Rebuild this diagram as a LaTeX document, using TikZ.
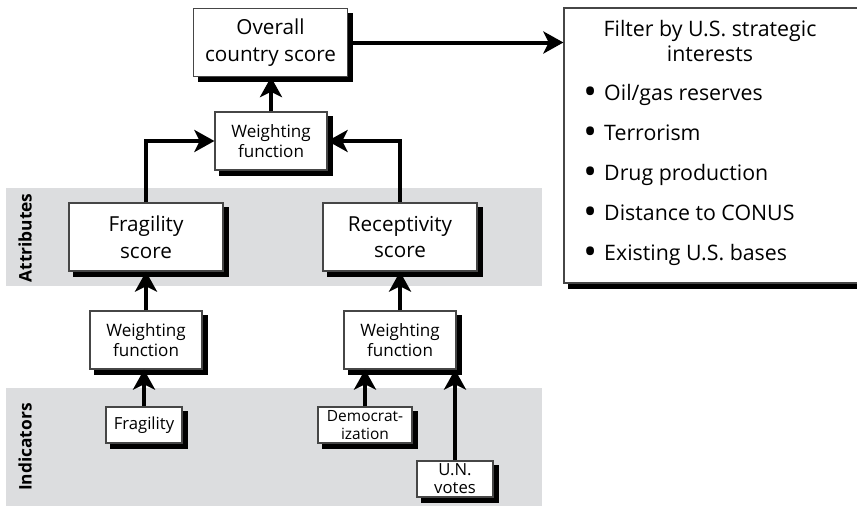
\documentclass[tikz,border=0pt]{standalone}
\usepackage{fontspec}
\usepackage{graphicx}
\setmainfont{Open Sans}
\usetikzlibrary{arrows.meta}
\definecolor{band}{RGB}{220,221,223}
\definecolor{edge}{RGB}{70,70,70}
\pgfdeclarelayer{back}
\pgfdeclarelayer{boxshadow}
\pgfsetlayers{back,boxshadow,main}
\newcommand{\bigdot}{\raisebox{-0.35ex}{\scalebox{1.7}{\textbullet}}}
\begin{document}
\begin{tikzpicture}[x=0.75pt,y=-0.75pt,
 box/.style={draw=edge, line width=0.9pt, fill=white, align=center, inner sep=0pt},
 big/.style={box, font=\fontsize{15.5}{20}\selectfont, minimum width=115.5pt, minimum height=51pt},
 wf/.style={box, font=\fontsize{12.8}{14.5}\selectfont, minimum width=84pt, minimum height=43.5pt},
 ind/.style={box, font=\fontsize{12.5}{13.5}\selectfont, minimum height=27pt},
 arr/.style={line width=3pt, -{Stealth[length=15pt,width=16.5pt,inset=4pt]}},
 lbl/.style={rotate=90, font=\bfseries\fontsize{13}{15}\selectfont},
 filt/.style={font=\fontsize{16}{18.75}\selectfont},
 bul/.style={filt, anchor=west, inner sep=0pt},
 shadowfill/.style={fill=black}
]
\clip (0,0) rectangle (857,507);
\begin{pgfonlayer}{back}
\fill[band] (6,188) rectangle (542,286);
\fill[band] (6,388) rectangle (542,506);
\end{pgfonlayer}
\node[lbl] (attr) at (25,238) {Attributes};
\node[lbl] (indi) at (25,447) {Indicators};

\node[big] (ov) at (270.5,42.5) {Overall\\country score};
\node[wf] (twf) at (271,141) {Weighting\\function};
\node[big] (fs) at (146,237) {Fragility\\score};
\node[big] (rs) at (400,237) {Receptivity\\score};
\node[wf] (wfl) at (146,340) {Weighting\\function};
\node[wf] (wfr) at (400,340) {Weighting\\function};
\node[ind, minimum width=57pt] (fi) at (144,425) {Fragility};
\node[ind, minimum width=70.5pt, font=\fontsize{11.6}{13.5}\selectfont] (dem) at (365,425) {Democrat-\\ization};
\node[ind, minimum width=57pt] (un) at (455,479) {U.N.\\votes};

\node[box, minimum width=229.5pt, minimum height=206.25pt] (filt) at (717,145.5) {};
\node[filt, align=center] (ftitle) at (710,40.5) {Filter by U.S. strategic\\interests};
\node[bul] (b1) at (583,95) {\bigdot\hspace{5.5pt}Oil/gas reserves};
\node[bul] (b2) at (583,135) {\bigdot\hspace{5.5pt}Terrorism};
\node[bul] (b3) at (583,175) {\bigdot\hspace{5.5pt}Drug production};
\node[bul] (b4) at (583,215) {\bigdot\hspace{5.5pt}Distance to CONUS};
\node[bul] (b5) at (583,255) {\bigdot\hspace{5.5pt}Existing U.S. bases};

\begin{pgfonlayer}{boxshadow}
\foreach \bx in {ov,twf,fs,rs,wfl,wfr,fi,dem,un,filt}
  \fill[shadowfill] ([shift={(5,5)}]\bx.south west) rectangle ([shift={(5,5)}]\bx.north east);
\end{pgfonlayer}

\draw[arr] (twf.north) -- (twf.north |- ov.south);
\draw[arr] (ov.east) -- (ov.east -| filt.west);
\draw[arr] (fs.north) |- (twf.west);
\draw[arr] (rs.north) |- (twf.east);
\draw[arr] (wfl.north) -- (wfl.north |- fs.south);
\draw[arr] (wfr.north) -- (wfr.north |- rs.south);
\draw[arr] (fi.north) -- (fi.north |- wfl.south);
\draw[arr] (dem.north) -- (dem.north |- wfr.south);
\draw[arr] (un.north) -- (un.north |- wfr.south);
\end{tikzpicture}
\end{document}
